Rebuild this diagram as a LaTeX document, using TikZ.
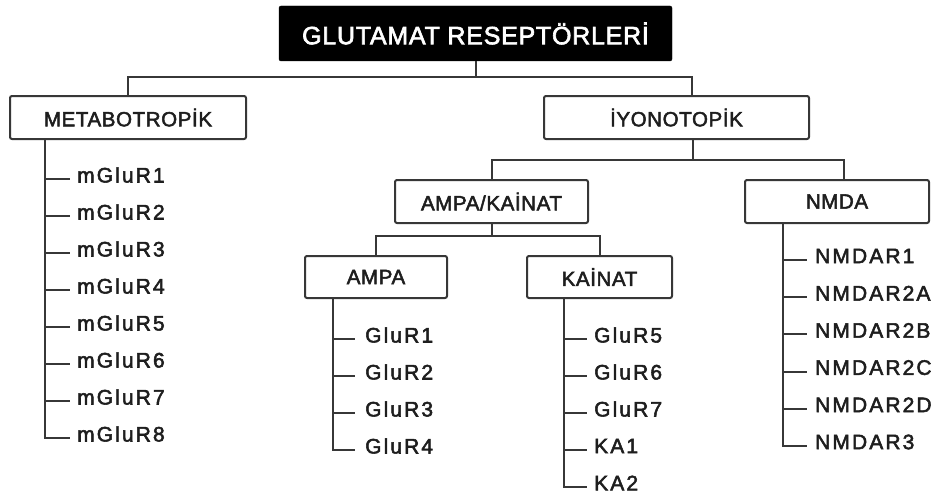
\documentclass[tikz,border=0pt]{standalone}
\usepackage{fontspec}
\setmainfont{Liberation Sans}
\newfontfamily\catfont[FakeBold=2.5,LetterSpace=3]{Liberation Sans}
\newfontfamily\leaffont[FakeBold=2.5,LetterSpace=10]{Liberation Sans}
\usetikzlibrary{positioning, calc}
\definecolor{cLine}{RGB}{55,55,55}
\definecolor{cText}{RGB}{30,30,30}
\tikzset{
	hdr/.style ={rectangle, fill=black, draw=black, rounded corners=2pt, minimum width=393pt, minimum height=55pt, inner sep=0pt, text=white, font=\catfont\fontsize{25}{30}\selectfont},
	cat/.style ={rectangle, draw=cLine, line width=2pt, rounded corners=2pt, fill=white, minimum height=43pt, inner sep=0pt, text=cText, font=\catfont\fontsize{20.5}{24}\selectfont},
	% list items
	leaf/.style={anchor=west, inner sep=0pt, text=cText, font=\leaffont\fontsize{21}{25}\selectfont},
	wire/.style={draw=cLine, line width=2pt},
}

\begin{document}
\begin{tikzpicture}[x=1pt, y=-1pt]
	\useasboundingbox (0,0) rectangle (931,495);
	\node[hdr] (root) at (475.5,33.5) {GLUTAMAT RESEPTÖRLERİ};
	\node[cat, minimum width=236pt] (metab) at (128,117.5) {METABOTROPİK};
	\node[cat, minimum width=265pt] (iyono) at (676.5,117.5) {İYONOTOPİK};
	\node[cat, minimum width=193pt] (ampakai) at (491.5,201.5) {AMPA/KAİNAT};
	\node[cat, minimum width=184pt] (nmda) at (837,201.5) {NMDA};
	\node[cat, minimum width=142pt, minimum height=42pt] (ampa) at (376,277) {AMPA};
	\node[cat, minimum width=145pt, minimum height=42pt] (kainat) at (599.5,277) {KAİNAT};
	% tree connectors
	\draw[wire] (root.south) -- ++(0,16) coordinate (bus0);
	\draw[wire] (metab.north) |- (bus0) -| ([xshift=15.5pt]iyono.north);
	\draw[wire] ([xshift=16.5pt]iyono.south) -- ++(0,20) coordinate (bus1);
	\draw[wire] (ampakai.north) |- (bus1) -| ([xshift=7pt]nmda.north);
	\draw[wire] (ampakai.south) -- ++(0,12) coordinate (bus2);
	\draw[wire] (ampa.north) |- (bus2) -| (kainat.north);
	% metabotropik list
	\coordinate (mt) at ([xshift=-83pt]metab.south);
	\foreach \i [count=\k from 0] in {1,...,8}{
		\node[leaf] (m\i) at (77,{175+37*\k}) {mGluR\i};
		\draw[wire] (mt) |- ([xshift=-7pt,yshift=-4pt]m\i.west);
	}
	% ampa list
	\coordinate (at) at ([xshift=-43pt]ampa.south);
	\foreach \i [count=\k from 0] in {1,...,4}{
		\node[leaf] (a\i) at (365,{335+37*\k}) {GluR\i};
		\draw[wire] (at) |- ([xshift=-10pt,yshift=-4pt]a\i.west);
	}
	% kainat list
	\coordinate (kt) at ([xshift=-35.5pt]kainat.south);
	\foreach \t [count=\k from 0] in {GluR5,GluR6,GluR7,KA1,KA2}{
		\node[leaf] (k\k) at (594,{335+37*\k}) {\t};
		\draw[wire] (kt) |- ([xshift=-7pt,yshift=-4pt]k\k.west);
	}
	% nmda list
	\coordinate (nt) at ([xshift=-54pt]nmda.south);
	\foreach \t [count=\k from 0] in {NMDAR1,NMDAR2A,NMDAR2B,NMDAR2C,NMDAR2D,NMDAR3}{
		\node[leaf] (n\k) at (815,{256+37.2*\k}) {\t};
		\draw[wire] (nt) |- ([xshift=-8pt,yshift=-4pt]n\k.west);
	}
\end{tikzpicture}
\end{document}
